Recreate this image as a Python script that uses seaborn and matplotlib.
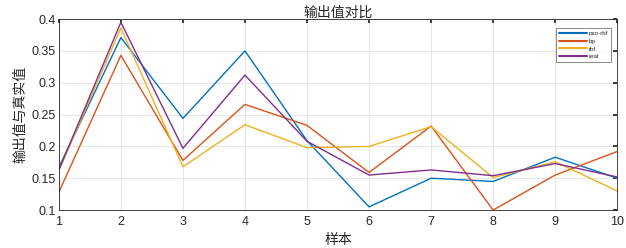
import numpy as np
import pandas as pd
import matplotlib
matplotlib.use("Agg")
import matplotlib.pyplot as plt
import seaborn as sns

# data
samples = [1, 2, 3, 4, 5, 6, 7, 8, 9, 10]
pso_rbf = [0.167, 0.371, 0.244, 0.350, 0.209, 0.105, 0.150, 0.145, 0.183, 0.150]
bp = [0.128, 0.343, 0.178, 0.266, 0.233, 0.159, 0.232, 0.100, 0.155, 0.192]
rbf = [0.162, 0.386, 0.168, 0.234, 0.198, 0.200, 0.231, 0.151, 0.176, 0.130]
real = [0.163, 0.395, 0.197, 0.312, 0.208, 0.155, 0.163, 0.154, 0.173, 0.152]

series_names = ["pso-rbf", "bp", "rbf", "real"]
colors = ["#0072BD", "#D95319", "#EDB120", "#7E2F8E"]

df = pd.DataFrame({
    "样本": samples * 4,
    "value": pso_rbf + bp + rbf + real,
    "series": np.repeat(series_names, len(samples)),
})

sns.set_theme(style="whitegrid")
plt.rcParams["font.family"] = ["Liberation Sans", "Noto Sans CJK SC", "DejaVu Sans"]

fig = plt.figure(figsize=(6.26, 2.48), dpi=100)
ax = fig.add_axes([0.094, 0.153, 0.892, 0.77])

sns.lineplot(data=df, x="样本", y="value", hue="series", hue_order=series_names,
             palette=colors, linewidth=1.0, ax=ax)

ax.set_xlim(1, 10)
ax.set_ylim(0.1, 0.4)
ax.set_xticks(samples)
ax.set_yticks([0.1, 0.15, 0.2, 0.25, 0.3, 0.35, 0.4])
ax.set_yticklabels(["0.1", "0.15", "0.2", "0.25", "0.3", "0.35", "0.4"])
ax.tick_params(axis="both", labelsize=9, direction="in", length=3,
               top=True, right=True, pad=2, colors="#262626")
ax.tick_params(axis="x", pad=4)
ax.grid(True, color="#e6e6e6", linewidth=0.7)
for s in ax.spines.values():
    s.set_color("#262626")
    s.set_linewidth(0.6)

cjk = ["Noto Sans CJK SC", "DejaVu Sans"]
ax.set_title("输出值对比", fontsize=10, family=cjk, pad=2)
ax.set_xlabel("样本", fontsize=10, family=cjk, labelpad=4)
ax.set_ylabel("输出值与真实值", fontsize=10, family=cjk, labelpad=3)

leg = ax.legend(loc="upper right", fontsize=4.5, frameon=True, fancybox=False,
                edgecolor="#555555", handlelength=4.5, borderpad=0.5,
                labelspacing=0.35, handletextpad=0.2, bbox_to_anchor=(0.995, 0.97))
leg.get_frame().set_linewidth(0.6)
for line in leg.get_lines():
    line.set_linewidth(1.5)

fig.savefig("out.png", dpi=100, facecolor="white")
